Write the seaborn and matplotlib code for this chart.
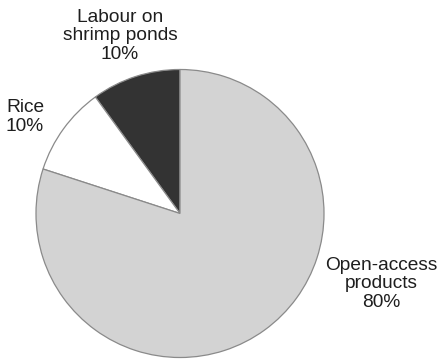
import matplotlib
matplotlib.use("Agg")
import matplotlib.pyplot as plt
import seaborn as sns

categories = ["Labour on\nshrimp ponds", "Rice", "Open-access\nproducts"]
values = [10, 10, 80]
colors = ["#333333", "#ffffff", "#d3d3d3"]

sns.set_style("white")
plt.rcParams['font.family'] = ['Liberation Sans', 'DejaVu Sans']

fig = plt.figure(figsize=(4.4, 3.6), dpi=100)
ax = fig.add_axes([0, 0, 1, 1])
ax.set_xlim(0, 440)
ax.set_ylim(0, 360)
ax.set_aspect('equal')
ax.axis('off')

ax.pie(values, colors=colors, startangle=90, counterclock=True,
       center=(180, 146.5), radius=144,
       wedgeprops=dict(edgecolor="#8a8a8a", linewidth=0.9))
ax.set_xlim(0, 440)
ax.set_ylim(0, 360)

label_pos = [(120, 324), (25, 243), (381, 76)]
for (x, y), cat, v in zip(label_pos, categories, values):
    ax.text(x, y, f"{cat}\n{v}%", ha='center', va='center', fontsize=13.8,
            linespacing=1.08, color="#1e1e1e")

fig.savefig("out.png", dpi=100)
